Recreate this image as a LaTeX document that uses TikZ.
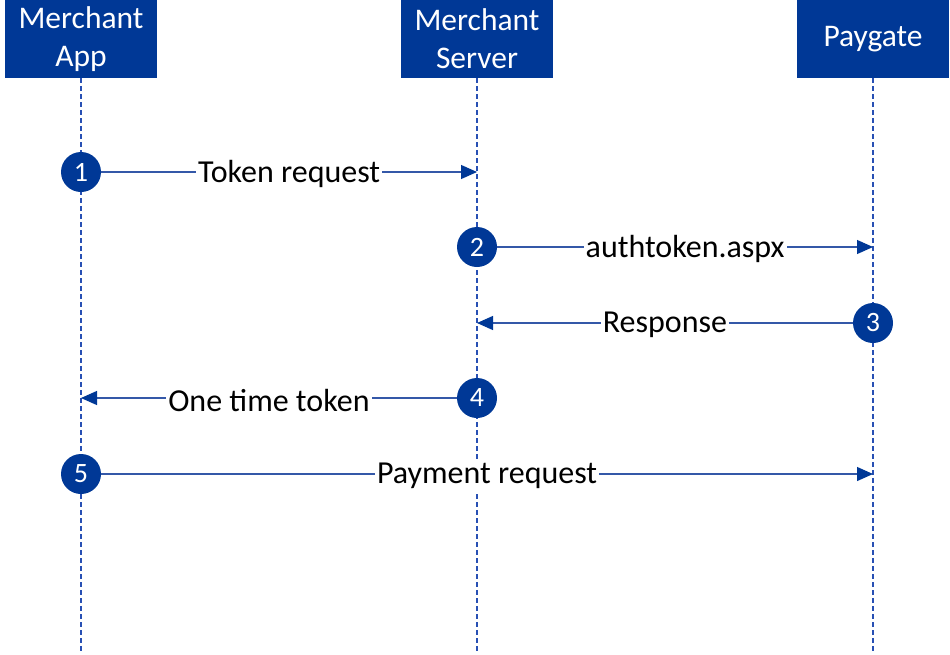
\documentclass[tikz,border=0pt]{standalone}
\usepackage{fontspec}
\setmainfont{Carlito}
\usetikzlibrary{arrows.meta}
\definecolor{pgblue}{RGB}{0,56,150}
\definecolor{pgline}{RGB}{52,88,168}
\definecolor{pgdash}{RGB}{40,80,180}
\tikzset{
  actor/.style={fill=pgblue, text=white, minimum width=152pt, minimum height=78pt, align=center, inner sep=0pt, font=\fontsize{31.5}{38}\selectfont},
  stepnum/.style={circle, fill=pgblue, text=white, minimum size=40pt, inner sep=0pt, font=\fontsize{28}{30}\selectfont},
  lifeline/.style={pgdash, dash pattern=on 5pt off 3pt, line width=1.3pt},
  msg/.style={pgline, line width=1.2pt, -{Triangle[length=16pt,width=14pt,color=pgblue]}},
  msglabel/.style={fill=white, text=black, inner sep=2pt, yshift=-2pt, font=\fontsize{32}{36}\selectfont}
}
\begin{document}
\begin{tikzpicture}[x=1pt, y=-1pt]
\useasboundingbox (0,0) rectangle (950,654);
% actors
\node[actor] (app) at (81,39) {Merchant\\App};
\node[actor] (server) at (477,39) {Merchant\\Server};
\node[actor] (paygate) at (873,39) {Paygate};
\coordinate (append) at (81,654);
\coordinate (serverend) at (477,654);
\coordinate (paygateend) at (873,654);
\draw[lifeline] (app) -- (append);
\draw[lifeline] (server) -- (serverend);
\draw[lifeline] (paygate) -- (paygateend);
% steps
\node[stepnum] (s1) at (81,172) {1};
\node[stepnum] (s2) at (477,247) {2};
\node[stepnum] (s3) at (873,323) {3};
\node[stepnum] (s4) at (477,398) {4};
\node[stepnum] (s5) at (81,474) {5};
\coordinate (t1) at (477,172);
\coordinate (t2) at (873,247);
\coordinate (t3) at (477,323);
\coordinate (t4) at (81,398);
\coordinate (t5) at (873,474);
% messages
\draw[msg] (s1) -- (t1) node[midway, msglabel] {Token request};
\draw[msg] (s2) -- (t2) node[midway, msglabel] {authtoken.aspx};
\draw[msg] (s3) -- (t3) node[midway, msglabel] {Response};
\draw[msg] (s4) -- (t4) node[midway, msglabel] {One time token};
\draw[msg] (s5) -- (t5) node[midway, msglabel] {Payment request};
\end{tikzpicture}
\end{document}
